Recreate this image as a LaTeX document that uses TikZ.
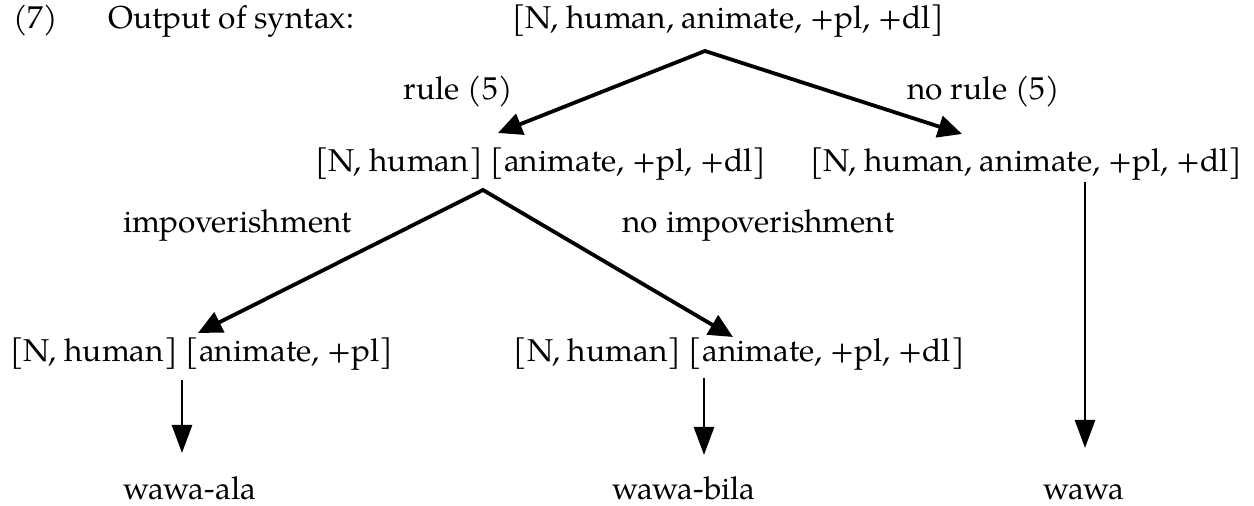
\documentclass[tikz,border=0pt]{standalone}
\usepackage{fontspec}
\setmainfont{TeX Gyre Pagella}
\usetikzlibrary{arrows.meta}
\begin{document}
\begin{tikzpicture}[x=0.5pt,y=-0.5pt,
  lbl/.style={inner sep=0pt, font=\fontsize{15.8}{18}\selectfont},
  conn/.style={line width=1.9pt, line join=miter, >={Triangle[length=12pt,width=11pt]}, <->},
  vconn/.style={line width=1.4pt, -{Triangle[length=14pt,width=10pt]}}]
\useasboundingbox (0,0) rectangle (1254,506);
% texts
\node[lbl, anchor=base west] (n7) at (13,29) {(7)};
\node[lbl, anchor=base west] (out) at (108,29) {Output of syntax:};
\node[lbl, anchor=base west] (top) at (512,29) {[N, human, animate, +pl, +dl]};
\node[lbl, anchor=base east] (rule) at (513,100) {rule (5)};
\node[lbl, anchor=base west] (norule) at (907,100) {no rule (5)};
\node[lbl, anchor=base west] (lA) at (315,172) {[N, human] [animate, +pl, +dl]};
\node[lbl, anchor=base west] (lB) at (810,172) {[N, human, animate, +pl, +dl]};
\node[lbl, anchor=base west] (imp) at (123,233) {impoverishment};
\node[lbl, anchor=base east] (noimp) at (895,233) {no impoverishment};
\node[lbl, anchor=base west] (lC) at (10,362) {[N, human] [animate, +pl]};
\node[lbl, anchor=base east] (lD) at (965,362) {[N, human] [animate, +pl, +dl]};
\node[lbl, anchor=base west] (w1) at (123,500) {wawa-ala};
\node[lbl, anchor=base west] (w2) at (612,500) {wawa-bila};
\node[lbl, anchor=base west] (w3) at (1043,500) {wawa};
% connector points
\coordinate (ap1) at (705,51);
\coordinate (tA) at (498,133);
\coordinate (tB) at (962,134);
\coordinate (ap2) at (483,190);
\coordinate (tC) at (198,333);
\coordinate (tD) at (733,337);
\coordinate (v1s) at (182,380);
\coordinate (v1e) at (182,453);
\coordinate (v2s) at (704,378);
\coordinate (v2e) at (704,455);
\coordinate (v3s) at (1085,182);
\coordinate (v3e) at (1085,448);
% connectors
\draw[conn] (tA) -- (ap1) -- (tB);
\draw[conn] (tC) -- (ap2) -- (tD);
\draw[vconn] (v1s) -- (v1e);
\draw[vconn] (v2s) -- (v2e);
\draw[vconn] (v3s) -- (v3e);
\end{tikzpicture}
\end{document}
